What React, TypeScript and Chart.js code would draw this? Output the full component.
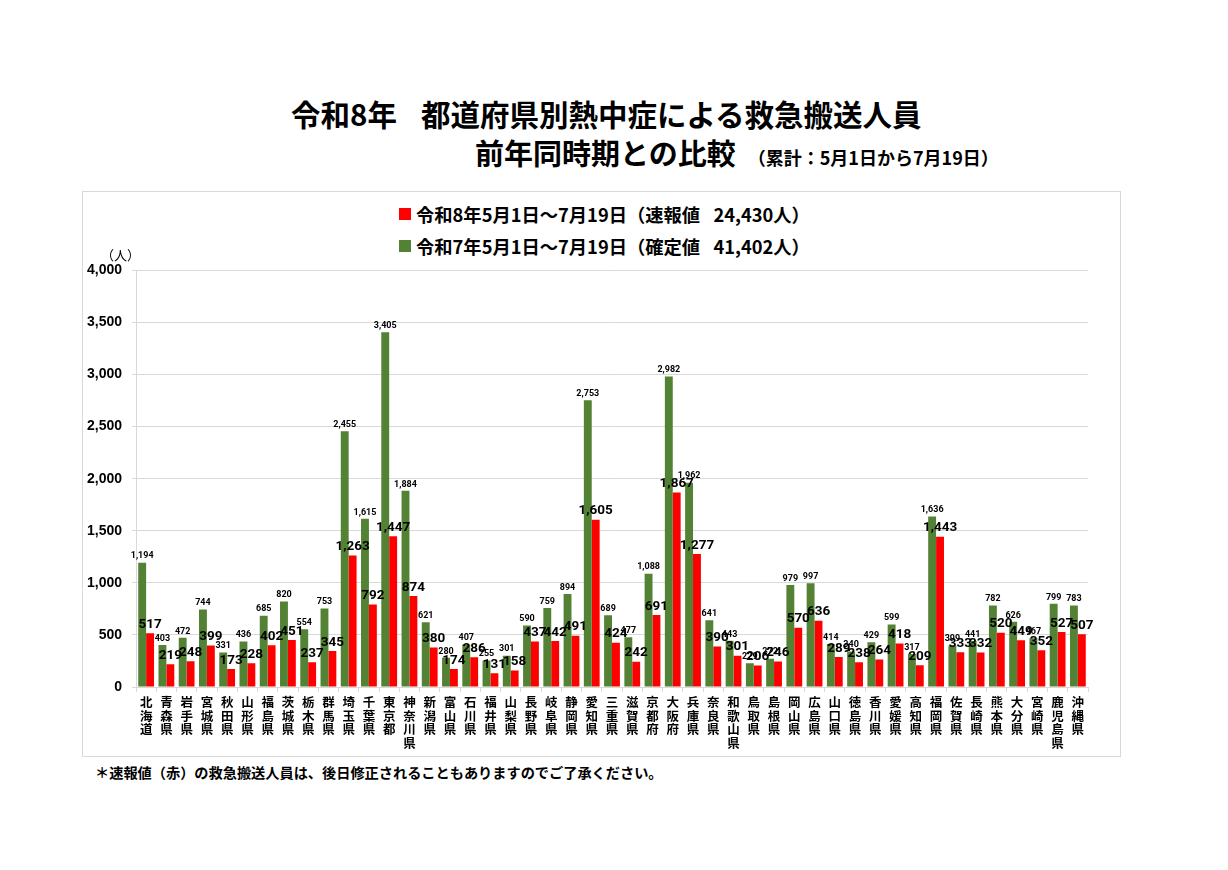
import { useEffect, useRef } from "react"
import { Chart, type ChartConfiguration, registerables } from "chart.js"

Chart.register(...registerables)

// 都道府県（左から右の順）
const prefectures = [
	"北海道", "青森県", "岩手県", "宮城県", "秋田県", "山形県", "福島県", "茨城県", "栃木県", "群馬県",
	"埼玉県", "千葉県", "東京都", "神奈川県", "新潟県", "富山県", "石川県", "福井県", "山梨県", "長野県",
	"岐阜県", "静岡県", "愛知県", "三重県", "滋賀県", "京都府", "大阪府", "兵庫県", "奈良県", "和歌山県",
	"鳥取県", "島根県", "岡山県", "広島県", "山口県", "徳島県", "香川県", "愛媛県", "高知県", "福岡県",
	"佐賀県", "長崎県", "熊本県", "大分県", "宮崎県", "鹿児島県", "沖縄県",
]

// 令和7年（確定値）緑
const r7Values = [
	1194, 403, 472, 744, 331, 436, 685, 820, 554, 753,
	2455, 1615, 3405, 1884, 621, 280, 407, 255, 301, 590,
	759, 894, 2753, 689, 477, 1088, 2982, 1962, 641, 443,
	229, 272, 979, 997, 414, 340, 429, 599, 317, 1636,
	399, 441, 782, 626, 467, 799, 783,
]

// 令和8年（速報値）赤
const r8Values = [
	517, 219, 248, 399, 173, 228, 402, 451, 237, 345,
	1263, 792, 1447, 874, 380, 174, 286, 131, 158, 437,
	442, 491, 1605, 424, 242, 691, 1867, 1277, 390, 301,
	206, 246, 570, 636, 289, 238, 264, 418, 209, 1443,
	333, 332, 520, 449, 352, 527, 507,
]

const r8Label = "令和8年5月1日～7月19日（速報値\u2002 24,430人）"
const r7Label = "令和7年5月1日～7月19日（確定値\u2002 41,402人）"

const yMax = 4000
const yStep = 500

const GREEN = "#548235"
const RED = "#ff0000"
const JP_FONT = "'Noto Sans CJK JP', sans-serif"

// 棒の上に数値を描く
const valueLabels = {
	id: "valueLabels",
	afterDatasetsDraw(chart: Chart) {
		const { ctx } = chart
		chart.data.datasets.forEach((ds, i) => {
			const meta = chart.getDatasetMeta(i)
			ctx.save()
			ctx.font = i === 0 ? "bold 9px Roboto" : "bold 13.5px Roboto"
			ctx.fillStyle = "#000"
			ctx.textAlign = "center"
			ctx.textBaseline = "bottom"
			meta.data.forEach((bar: any, j) => {
				const v = ds.data[j] as number
				ctx.fillText(v.toLocaleString("en-US"), bar.x, bar.y - 2)
			})
			ctx.restore()
		})
	},
}

function HeatstrokeChart() {
	const canvasRef = useRef<HTMLCanvasElement>(null)
	const chartRef = useRef<Chart | null>(null)

	useEffect(() => {
		if (!canvasRef.current) return
		if (chartRef.current) chartRef.current.destroy()

		const config: ChartConfiguration = {
			type: "bar",
			data: {
				labels: prefectures.map((p) => p.split("")),
				datasets: [
					{
						label: r7Label,
						data: r7Values,
						backgroundColor: GREEN,
						categoryPercentage: 0.78,
						barPercentage: 1,
					},
					{
						label: r8Label,
						data: r8Values,
						backgroundColor: RED,
						categoryPercentage: 0.78,
						barPercentage: 1,
					},
				],
			},
			options: {
				animation: false,
				responsive: true,
				maintainAspectRatio: false,
				layout: { padding: { top: 4, right: 32, left: 0, bottom: 0 } },
				plugins: {
					legend: { display: false },
					tooltip: { enabled: false },
				},
				scales: {
					x: {
						grid: { display: true, drawOnChartArea: false, color: "#d9d9d9", tickLength: 5 },
						border: { color: "#d9d9d9" },
						ticks: {
							autoSkip: false,
							maxRotation: 0,
							minRotation: 0,
							color: "#000",
							padding: 4,
							font: { family: JP_FONT, size: 12.5, weight: "bold", lineHeight: 1.07 },
						},
						afterFit(scale: any) {
							scale.height = 69
						},
					},
					y: {
						min: 0,
						max: yMax,
						grid: { color: "#d9d9d9", tickLength: 4 },
						border: { color: "#d9d9d9" },
						ticks: {
							stepSize: yStep,
							color: "#000",
							padding: 10,
							font: { family: "'Liberation Sans', Arial", size: 14, weight: "bold" },
							callback: (v) => Number(v).toLocaleString("en-US"),
						},
						afterFit(scale: any) {
							scale.width = 53
						},
					},
				},
			},
			plugins: [valueLabels],
		}

		chartRef.current = new Chart(canvasRef.current, config)

		return () => {
			if (chartRef.current) {
				chartRef.current.destroy()
				chartRef.current = null
			}
		}
	}, [])

	return (
		<div style={{ position: "absolute", left: 83, top: 252, width: 1037, height: 504 }}>
			<canvas ref={canvasRef}></canvas>
		</div>
	)
}

function LegendRow({ color, text, top }: { color: string; text: string; top: number }) {
	return (
		<div
			style={{
				position: "absolute",
				left: 399,
				top,
				height: 22,
				display: "flex",
				alignItems: "center",
				fontFamily: JP_FONT,
				fontWeight: "bold",
				fontSize: 18.3,
				whiteSpace: "nowrap",
			}}
		>
			<span style={{ display: "inline-block", width: 12, height: 12, background: color, marginRight: 5 }} />
			<span>{text}</span>
		</div>
	)
}

export default function App() {
	return (
		<div
			style={{
				position: "absolute",
				left: 0,
				top: 0,
				width: 1228,
				height: 870,
				background: "#fff",
				fontFamily: JP_FONT,
				color: "#000",
			}}
		>
			<div
				style={{
					position: "absolute",
					left: 291,
					top: 96,
					fontSize: 29.5,
					lineHeight: "34px",
					fontWeight: "bold",
					whiteSpace: "nowrap",
				}}
			>
				<span>令和8年</span>
				<span style={{ marginLeft: 24 }}>都道府県別熱中症による救急搬送人員</span>
			</div>
			<div
				style={{
					position: "absolute",
					left: 475,
					top: 135,
					fontSize: 29,
					lineHeight: "34px",
					fontWeight: "bold",
					whiteSpace: "nowrap",
				}}
			>
				<span>前年同時期との比較</span>
				<span style={{ marginLeft: 12, fontSize: 18 }}>（累計：5月1日から7月19日）</span>
			</div>

			<div
				style={{
					position: "absolute",
					left: 82,
					top: 191,
					width: 1037,
					height: 564,
					border: "1px solid #d9d9d9",
				}}
			/>

			<LegendRow color={RED} text={r8Label} top={203} />
			<LegendRow color={GREEN} text={r7Label} top={235} />

			<HeatstrokeChart />

			<div
				style={{
					position: "absolute",
					left: 101,
					top: 246,
					fontSize: 13,
					lineHeight: "18px",
					whiteSpace: "nowrap",
				}}
			>
				（人）
			</div>

			<div
				style={{
					position: "absolute",
					left: 95,
					top: 762,
					fontSize: 14.2,
					lineHeight: "20px",
					fontWeight: "bold",
					whiteSpace: "nowrap",
				}}
			>
				＊速報値（赤）の救急搬送人員は、後日修正されることもありますのでご了承ください。
			</div>
		</div>
	)
}
